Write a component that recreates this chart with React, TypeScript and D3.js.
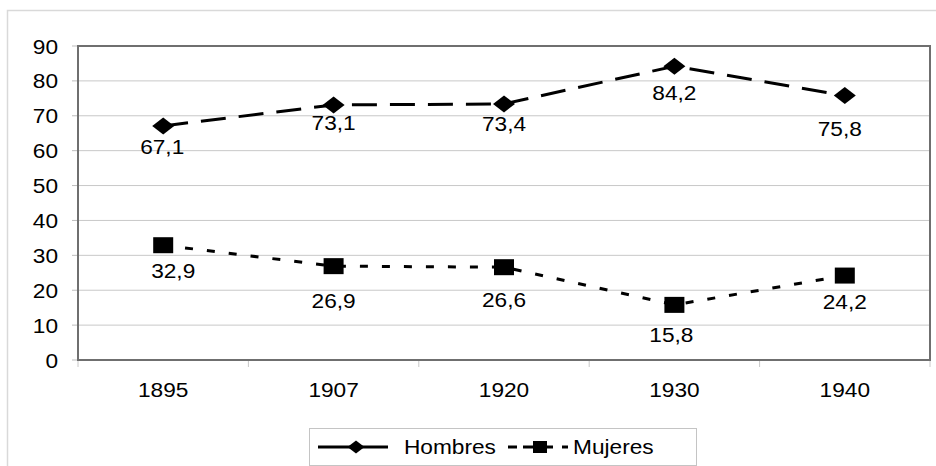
import React from "react";
import * as d3 from "d3";

const years = ["1895", "1907", "1920", "1930", "1940"];
const hombres = [67.1, 73.1, 73.4, 84.2, 75.8];
const mujeres = [32.9, 26.9, 26.6, 15.8, 24.2];
const hombresLabels = ["67,1", "73,1", "73,4", "84,2", "75,8"];
const mujeresLabels = ["32,9", "26,9", "26,6", "15,8", "24,2"];
// label nudges (as placed in the original)
const hombresLabelDx = [-1, 0, 0, 0, -5];
const hombresLabelDy = [28, 25, 27, 34, 40];
const mujeresLabelDx = [10, 0, 0, -3, 0];
const mujeresLabelDy = [33, 42, 40, 37, 33];
const yTicks = [0, 10, 20, 30, 40, 50, 60, 70, 80, 90];

const W = 936;
const H = 466;
const plot = { left: 78, right: 930, top: 46, bottom: 360 };
const FONT = "'Liberation Sans', Arial, sans-serif";
const SX = 1.08;

function T({ x, y, anchor = "middle", children }: any) {
  return (
    <text
      transform={`translate(${x},${y}) scale(${SX},1)`}
      textAnchor={anchor}
      fontFamily={FONT}
      fontSize={21}
      fill="#000"
    >
      {children}
    </text>
  );
}

const diamond = (hw: number, hh: number) => `M0,${-hh}L${hw},0L0,${hh}L${-hw},0Z`;

export default function App() {
  const x = d3.scaleBand<string>().domain(years).range([plot.left, plot.right]).padding(0);
  const cx = (c: string) => (x(c) as number) + x.bandwidth() / 2;
  const y = d3.scaleLinear().domain([0, 90]).range([plot.bottom, plot.top]);
  const line = d3
    .line<number>()
    .x((_, i) => cx(years[i]))
    .y((d) => y(d));
  const boundaries = [...years.map((c) => x(c) as number), plot.right];

  return (
    <svg
      width={W}
      height={H}
      style={{ position: "absolute", left: 0, top: 0, display: "block", background: "#fff" }}
    >
      <rect x={0} y={0} width={W} height={H} fill="#fff" />
      {/* outer chart frame */}
      <rect x={7.5} y={10.5} width={940} height={470} fill="none" stroke="#d9d9d9" strokeWidth={1.5} />

      {/* gridlines */}
      {yTicks.slice(1, -1).map((t) => (
        <line key={t} x1={plot.left} x2={plot.right} y1={y(t)} y2={y(t)} stroke="#c8c8c8" strokeWidth={1} />
      ))}
      {/* y ticks */}
      {yTicks.map((t) => (
        <line key={"yt" + t} x1={plot.left - 6} x2={plot.left} y1={y(t)} y2={y(t)} stroke="#bdbdbd" strokeWidth={1} />
      ))}
      {/* x ticks */}
      {boundaries.map((b, i) => (
        <line key={"xt" + i} x1={b} x2={b} y1={plot.bottom} y2={plot.bottom + 7} stroke="#c8c8c8" strokeWidth={1} />
      ))}
      {/* plot border */}
      <rect
        x={plot.left}
        y={plot.top}
        width={plot.right - plot.left}
        height={plot.bottom - plot.top}
        fill="none"
        stroke="#6f6f6f"
        strokeWidth={2}
      />

      {/* y labels */}
      {yTicks.map((t) => (
        <T key={"yl" + t} x={58} y={y(t) + 7.5} anchor="end">
          {t}
        </T>
      ))}
      {/* x labels */}
      {years.map((c) => (
        <T key={"xl" + c} x={cx(c)} y={396.5}>
          {c}
        </T>
      ))}

      {/* Hombres */}
      <path d={line(hombres) || ""} fill="none" stroke="#000" strokeWidth={3} strokeDasharray="25 13" />
      {hombres.map((v, i) => (
        <path key={"hm" + i} d={diamond(11, 8.5)} transform={`translate(${cx(years[i])},${y(v)})`} fill="#000" />
      ))}
      {hombres.map((v, i) => (
        <T key={"hl" + i} x={cx(years[i]) + hombresLabelDx[i]} y={y(v) + hombresLabelDy[i]}>
          {hombresLabels[i]}
        </T>
      ))}

      {/* Mujeres */}
      <path d={line(mujeres) || ""} fill="none" stroke="#000" strokeWidth={3} strokeDasharray="8 14" />
      {mujeres.map((v, i) => (
        <rect key={"mm" + i} x={cx(years[i]) - 10} y={y(v) - 8} width={20} height={16} fill="#000" />
      ))}
      {mujeres.map((v, i) => (
        <T key={"ml" + i} x={cx(years[i]) + mujeresLabelDx[i]} y={y(v) + mujeresLabelDy[i]}>
          {mujeresLabels[i]}
        </T>
      ))}

      {/* legend */}
      <rect x={309.5} y={428.5} width={387} height={37} fill="#fff" stroke="#c4c4c4" strokeWidth={1} />
      <line x1={318} x2={388} y1={447} y2={447} stroke="#000" strokeWidth={3} />
      <path d={diamond(8.5, 6.5)} transform="translate(356,447)" fill="#000" />
      <T x={404} y={453.5} anchor="start">
        Hombres
      </T>
      <line x1={508} x2={568} y1={447} y2={447} stroke="#000" strokeWidth={3} strokeDasharray="9 6 30 9 6" />
      <rect x={533} y={441} width={14} height={12} fill="#000" />
      <T x={573} y={453.5} anchor="start">
        Mujeres
      </T>
    </svg>
  );
}
